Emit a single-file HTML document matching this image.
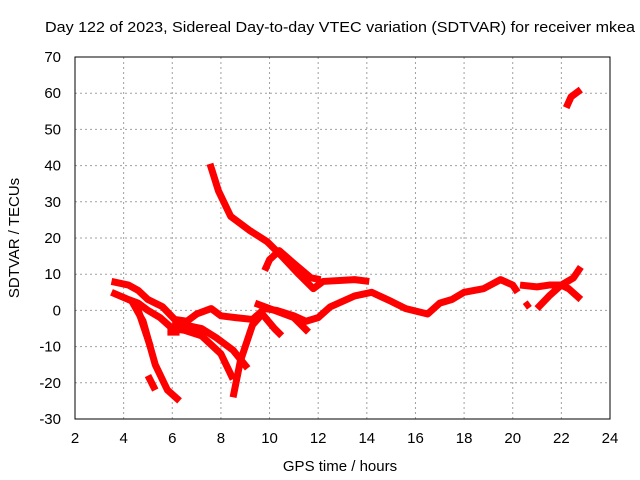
<!DOCTYPE html>
<html><head><meta charset="utf-8"><style>
body{margin:0;background:#fff;}
svg{display:block;font-family:"Liberation Sans",sans-serif;}
</style></head><body>
<svg id="chart" width="640" height="480" viewBox="0 0 640 480">
<text x="45" y="32" font-size="15" textLength="590" lengthAdjust="spacingAndGlyphs" fill="#000">Day 122 of 2023, Sidereal Day-to-day VTEC variation (SDTVAR) for receiver mkea</text>
<text x="340" y="471" font-size="15" text-anchor="middle">GPS time / hours</text>
<text x="19" y="238" font-size="15" text-anchor="middle" transform="rotate(-90 19 238)">SDTVAR / TECUs</text>
<g id="grid"></g>
<g id="series"></g>
<rect x="75" y="57" width="535" height="362" fill="none" stroke="#000" stroke-width="1"/>
</svg>
<script>
const xTicks=[2,4,6,8,10,12,14,16,18,20,22,24];
const yTicks=[-30,-20,-10,0,10,20,30,40,50,60,70];
const segA=[[7.55,40.5],[7.9,33],[8.4,26],[9.2,22],[9.9,19],[10.5,15],[11.2,10],[11.8,6],[12.2,8],[13.5,8.5],[14.1,8]];
const segB=[[9.8,11],[10,14],[10.4,16.5],[11,13],[11.7,9],[12.1,8.5]];
const segC=[[3.5,8],[4.2,7],[4.6,5.5],[5,3],[5.6,1],[6.1,-2.5],[6.6,-3],[7,-1],[7.6,0.5],[8,-1.5],[8.6,-2],[9.3,-2.5],[9.8,0.5],[10.3,0],[11,-1.5],[11.5,-3],[12,-2],[12.5,1],[13.5,4],[14.2,5],[15,2.5],[15.6,0.5],[16.5,-1],[17,2],[17.5,3],[18,5],[18.8,6],[19.5,8.5],[20,7],[20.2,5]];
const segD=[[20.3,7],[21,6.5],[21.5,7],[22,7],[22.5,9],[22.8,12]];
const segE=[[21,0.5],[21.5,4],[22,7],[22.3,6],[22.8,3]];
const segF=[[20.5,1],[20.7,2]];
const segG=[[22.2,56],[22.4,59],[22.8,61]];
const segH=[[3.5,5],[4.2,3],[4.6,2],[5,0],[5.5,-2],[6,-5],[6.5,-5.5],[7.2,-7],[8,-12],[8.5,-19]];
const segI=[[4.5,2],[4.8,-4],[5.1,-10]];
const segJ=[[4.3,3],[4.8,-3],[5.3,-15],[5.8,-22],[6.3,-25]];
const segK=[[5,-18],[5.3,-22]];
const segL=[[8.5,-24],[8.8,-14],[9.3,-4],[9.7,-1],[10.2,-5],[10.5,-7]];
const segM=[[6,-3.5],[6.5,-4],[7.2,-5],[7.8,-7.5],[8.5,-11],[9.1,-16]];
const segN=[[9.4,2],[10.2,0],[11,-2],[11.6,-6]];
const segO=[[5.8,-6],[6.3,-6]];
const allSeg=[segA,segB,segC,segD,segE,segF,segG,segH,segI,segJ,segK,segL,segM,segN,segO];
const NS="http://www.w3.org/2000/svg";
const X0=75,X1=610,Y0=419,Y1=57;
function xs(v){return X0+(v-2)/(24-2)*(X1-X0);}
function ys(v){return Y0-(v+30)/(100)*(Y0-Y1);}
const g=document.getElementById('grid');
xTicks.forEach(t=>{
  const x=xs(t);
  if(t>2&&t<24){const l=document.createElementNS(NS,'line');
  
  
  l.setAttribute('x1',x);l.setAttribute('x2',x);l.setAttribute('y1',Y1);l.setAttribute('y2',Y0);
  l.setAttribute('stroke','#a0a0a0');l.setAttribute('stroke-dasharray','2,3');g.appendChild(l);}
  const tx=document.createElementNS(NS,'text');
  
  
  tx.setAttribute('x',x);tx.setAttribute('y',443);tx.setAttribute('font-size','15');tx.setAttribute('text-anchor','middle');
  tx.textContent=t;g.appendChild(tx);
});
yTicks.forEach(t=>{
  const y=ys(t);
  if(t>-30&&t<70){const l=document.createElementNS(NS,'line');
  
  
  l.setAttribute('x1',X0);l.setAttribute('x2',X1);l.setAttribute('y1',y);l.setAttribute('y2',y);
  l.setAttribute('stroke','#a0a0a0');l.setAttribute('stroke-dasharray','2,3');g.appendChild(l);}
  const tx=document.createElementNS(NS,'text');
  
  
  tx.setAttribute('x',61);tx.setAttribute('y',y+5);tx.setAttribute('font-size','15');tx.setAttribute('text-anchor','end');
  tx.textContent=t;g.appendChild(tx);
});
const s=document.getElementById('series');
allSeg.forEach(seg=>{
  const p=document.createElementNS(NS,'polyline');
  
  
  p.setAttribute('points',seg.map(d=>xs(d[0])+','+ys(d[1])).join(' '));
  p.setAttribute('fill','none');p.setAttribute('stroke','#ff0000');p.setAttribute('stroke-width','7');
  p.setAttribute('stroke-linejoin','round');
  s.appendChild(p);
});
</script>
</body></html>
